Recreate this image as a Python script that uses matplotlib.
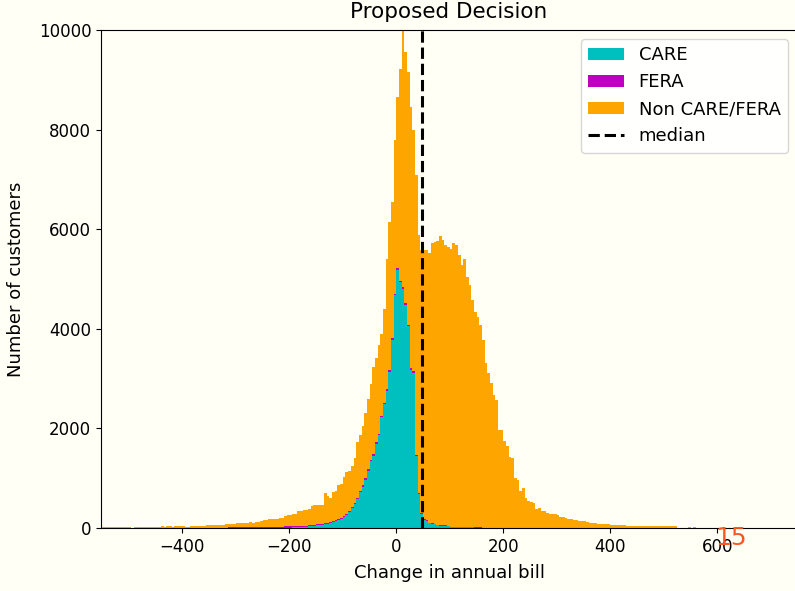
import numpy as np
import matplotlib
matplotlib.use("Agg")
import matplotlib.pyplot as plt

# Histogram binning of the bill change (dollars)
bin_start = -550
bin_width = 5

# Customer counts per 5-dollar bin, starting at -550
care_counts = [0] * 46 + [
    2, 2, 2, 2, 2, 2, 2, 2, 2, 2,
    2, 2, 3, 3, 3, 3, 3, 3, 4, 4,
    5, 6, 7, 8, 10, 12, 14, 17, 20, 24,
    28, 32, 38, 45, 55, 63, 70, 78, 88, 100,
    115, 135, 160, 185, 215, 265, 315, 395, 475, 575,
    720, 830, 970, 1150, 1340, 1450, 1690, 1860, 2220, 2480,
    2760, 3140, 3780, 4670, 5190, 4930, 4800, 4480, 4050, 3180,
    3120, 1445, 680, 290, 160, 150, 100, 90, 80, 55,
    50, 50, 45, 40, 22, 22, 20, 18, 18, 16,
    15, 12, 12, 10, 8, 8, 5, 4, 3, 2,
] + [0] * 76

fera_counts = [0] * 46 + [
    5, 10, 18, 20, 22, 20, 24, 22, 25, 23,
    25, 24, 26, 25, 27, 25, 26, 25, 26, 25,
    25, 24, 25, 24, 24, 23, 24, 23, 23, 22,
    22, 21, 21, 20, 20, 20, 20, 19, 20, 20,
    21, 22, 22, 23, 24, 25, 25, 26, 27, 28,
    28, 30, 30, 30, 30, 32, 32, 33, 33, 34,
    35, 35, 36, 38, 38, 36, 35, 34, 33, 30,
    30, 25, 20, 15, 12, 10, 10, 9, 8, 8,
    7, 7, 6, 6, 6, 5, 5, 5, 4, 4,
    5, 4, 4, 4, 3, 3,
] + [0] * 80

non_care_counts = [
    20, 20, 18, 20, 22, 20, 18, 20, 20, 22, 20,
    0,
    20, 18, 22, 20, 20, 25, 20, 22, 25, 22,
    40, 28, 38, 40, 30, 35, 38, 40,
    38, 22, 25,
    45, 42, 48, 45, 50, 48,
    55, 62, 60, 68, 65, 70, 66,
    68, 73, 70, 66, 71, 70, 74, 81, 83, 90, 81, 92,
    101, 122, 125, 137, 146, 152, 155, 161, 165, 170,
    218, 228, 236, 240, 247, 300, 307, 314, 315, 322,
    381, 390, 385, 382, 380, 603, 542, 480, 594, 583,
    688, 672, 791, 830, 810, 819, 908, 1127, 1122, 1190,
    1300, 1420, 1530, 1758, 1698, 1787, 1647, 1886, 2605, 2975,
    2734, 3082, 3432, 4244, 5465, 5046, 5077, 5240, 4840, 5620,
    5180, 5275, 5408, 5420, 5410, 5621, 5662, 5697, 5803, 5723,
    5629, 5604, 5572, 5703, 5655, 5457, 5258, 5380, 5030, 4864,
    4564, 4326, 4219, 4069, 3775, 3306, 3107, 2908, 2670, 2570,
    1970, 1970, 1750, 1650, 1420, 1400, 1000, 965, 750, 800,
    600, 540, 520, 510, 375, 395, 345, 340, 310, 285,
    280, 275, 270, 215, 215, 210, 190, 185, 160, 155,
    150, 140, 135, 130, 105, 100, 110, 85, 80, 78,
    80, 75, 55, 58, 55, 52, 55, 55, 50, 35,
    38, 35, 33, 35, 36, 35, 32, 35, 34, 35,
    33, 35, 34, 32, 35, 33, 35, 0, 0, 0,
    0, 30, 0, 30,
]

median_change = 48.6

group_labels = ["CARE", "FERA", "Non CARE/FERA"]
group_colors = ["c", "m", "orange"]

n_bins = len(non_care_counts)
edges = bin_start + bin_width * np.arange(n_bins + 1)
centers = 0.5 * (edges[:-1] + edges[1:])

bg = "#fffff6"
fig = plt.figure(figsize=(7.95, 5.91), dpi=100, facecolor=bg)
ax = fig.add_axes([101 / 795, 1 - 528 / 591, 696 / 795, (528 - 30) / 591],
                  facecolor=bg)

ax.hist([centers, centers, centers], bins=edges,
        weights=[care_counts, fera_counts, non_care_counts],
        stacked=True, color=group_colors, label=group_labels)
ax.axvline(median_change, color="k", linestyle="--", linewidth=2.2,
           label="median")

ax.set_xlim(-552, 749)
ax.set_ylim(0, 10000)
ax.tick_params(labelsize=12)
ax.set_title("Proposed Decision", fontsize=15.5, pad=8.4)
ax.set_xlabel("Change in annual bill", fontsize=13, labelpad=6)
ax.set_ylabel("Number of customers", fontsize=13, labelpad=10)
ax.legend(loc="upper right", fontsize=13)

fig.text(0.92, 0.09, "15", color="#ff5722", fontsize=18,
         ha="center", va="center")

fig.savefig("out.png", dpi=100, facecolor=bg)
